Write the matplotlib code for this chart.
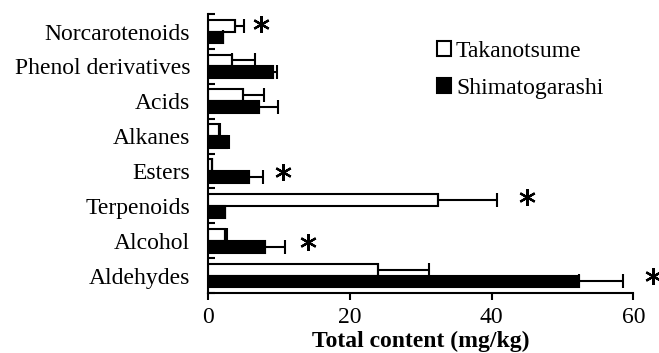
import numpy as np
import matplotlib
matplotlib.use("Agg")
import matplotlib.pyplot as plt

plt.rcParams['font.family'] = ['Liberation Serif', 'DejaVu Serif']

# categories from top to bottom
categories = ["Norcarotenoids", "Phenol derivatives", "Acids", "Alkanes",
              "Esters", "Terpenoids", "Alcohol", "Aldehydes"]
takanotsume = [3.8, 3.4, 4.9, 1.5, 0.5, 32.5, 2.4, 23.9]
takanotsume_err = [1.2, 3.2, 2.9, 0.2, 0.0, 8.2, 0.2, 7.2]
shimatogarashi = [2.1, 9.2, 7.1, 2.6, 5.7, 2.3, 8.0, 52.4]
shimatogarashi_err = [0.0, 0.5, 2.7, 0.4, 2.0, 0.0, 2.9, 6.2]
# significance marks (x position, vertical offset within the group)
star_x = [7.4, None, None, None, 10.6, 45.0, 14.1, 62.8]
star_dy = [0.23, 0, 0, 0, -0.04, 0.24, -0.04, 0.0]

n = len(categories)
y = np.arange(n)[::-1]
h = 0.34

fig = plt.figure(figsize=(6.59, 3.53), dpi=100)
ax = fig.add_axes([0.316, 0.170, 0.645, 0.790])

err_kw = dict(ecolor="black", elinewidth=1.5, capsize=5, capthick=1.5)
ax.barh(y + h / 2, takanotsume, height=h, color="white", edgecolor="black",
        linewidth=1.5, label="Takanotsume",
        xerr=[np.zeros(n), takanotsume_err], error_kw=err_kw)
ax.barh(y - h / 2, shimatogarashi, height=h, color="black", edgecolor="black",
        linewidth=1.5, label="Shimatogarashi",
        xerr=[np.zeros(n), shimatogarashi_err], error_kw=err_kw)

for i in range(n):
    if star_x[i] is not None:
        ax.plot(star_x[i], y[i] + star_dy[i], marker=(6, 2, 0), markersize=12,
                markeredgewidth=1.6, color="black", clip_on=False)

ax.set_xlim(0, 60)
ax.set_ylim(-0.5, n - 0.5)
ax.set_xticks([0, 20, 40, 60])
ax.set_yticks(y)
ax.set_yticklabels(categories)
ax.set_yticks(np.arange(n + 1) - 0.5, minor=True)
ax.tick_params(axis="y", which="major", length=0, pad=13, labelsize=17)
ax.tick_params(axis="y", which="minor", direction="in", length=5, width=1.5)
ax.tick_params(axis="x", direction="out", length=5, width=1.5, pad=5, labelsize=17)
ax.set_xlabel("Total content (mg/kg)", fontsize=17, fontweight="bold", labelpad=2)

for s in ["top", "right"]:
    ax.spines[s].set_visible(False)
for s in ["left", "bottom"]:
    ax.spines[s].set_linewidth(1.5)

ax.legend(loc="upper left", bbox_to_anchor=(0.649, 0.912), bbox_transform=fig.transFigure,
          frameon=False, fontsize=17, handlelength=0.6, handleheight=0.6,
          handletextpad=0.2, labelspacing=0.7, borderaxespad=0)

fig.savefig("out.png", dpi=100)
